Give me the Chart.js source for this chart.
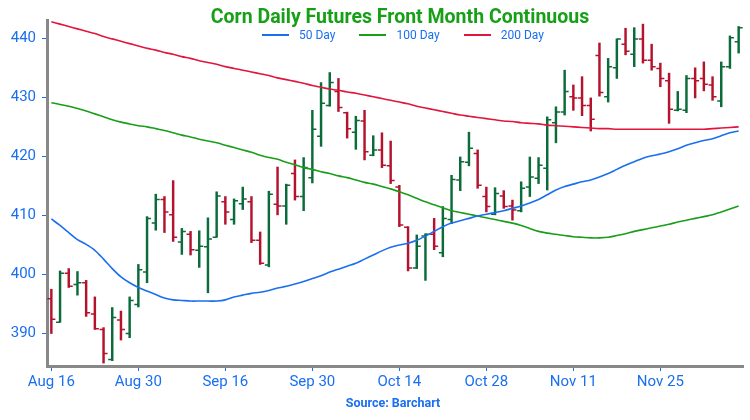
<!DOCTYPE html>
<html><head><meta charset="utf-8">
<script src="https://cdn.jsdelivr.net/npm/chart.js@4.4.1/dist/chart.umd.min.js"></script>
<style>
html,body{margin:0;padding:0;background:#fff;}
#wrap{position:relative;width:750px;height:420px;overflow:hidden;}
#c{position:absolute;left:0;top:0;}
#title{position:absolute;left:0;width:800px;top:5px;text-align:center;font-family:Roboto;font-weight:bold;font-size:19.5px;color:#17a017;white-space:nowrap;}
#legend{position:absolute;left:262px;top:28px;height:14px;display:flex;align-items:center;font-family:Roboto;font-size:12px;color:#1a6ff0;white-space:nowrap;}
#legend .it{display:flex;align-items:center;margin-right:24px;}
#legend .sw{display:inline-block;width:27px;height:2.5px;margin-right:10px;}
#source{position:absolute;left:0;width:786px;top:395px;text-align:center;font-family:Roboto;font-weight:bold;font-size:12.5px;color:#1a6ff0;}
</style></head>
<body>
<div id="wrap">
<canvas id="c" width="750" height="420"></canvas>
<div id="title">Corn Daily Futures Front Month Continuous</div>
<div id="legend"></div>
<div id="source">Source: Barchart</div>
</div>
<script>
const dates = ['Aug 16','Aug 19','Aug 20','Aug 21','Aug 22','Aug 23','Aug 26','Aug 27','Aug 28','Aug 29','Aug 30',
'Sep 3','Sep 4','Sep 5','Sep 6','Sep 9','Sep 10','Sep 11','Sep 12','Sep 13','Sep 16','Sep 17','Sep 18','Sep 19','Sep 20',
'Sep 23','Sep 24','Sep 25','Sep 26','Sep 27','Sep 30','Oct 1','Oct 2','Oct 3','Oct 4','Oct 7','Oct 8','Oct 9','Oct 10','Oct 11',
'Oct 14','Oct 15','Oct 16','Oct 17','Oct 18','Oct 21','Oct 22','Oct 23','Oct 24','Oct 25','Oct 28','Oct 29','Oct 30','Oct 31','Nov 1',
'Nov 4','Nov 5','Nov 6','Nov 7','Nov 8','Nov 11','Nov 12','Nov 13','Nov 14','Nov 15','Nov 18','Nov 19','Nov 20','Nov 21','Nov 22',
'Nov 25','Nov 26','Nov 27','Nov 29','Dec 2','Dec 3','Dec 4','Dec 5','Dec 6','Dec 9'];
const xTickLabels = ['Aug 16','Aug 30','Sep 16','Sep 30','Oct 14','Oct 28','Nov 11','Nov 25'];
const yTicks = [390,400,410,420,430,440];

const openP = [395.9,391.9,400.2,398.3,398.6,393.3,390.7,385.6,392.3,390.0,
394.9,400.4,408.7,412.7,410.1,405.5,406.8,404.1,404.7,406.3,
412.3,409.3,412.0,412.3,405.8,401.6,411.9,411.6,417.1,413.2,
416.4,423.4,428.6,431.0,427.4,424.1,426.0,420.2,421.1,418.4,
414.8,408.0,401.1,406.5,406.8,403.7,409.3,416.0,419.0,420.5,
413.2,410.2,413.3,411.6,410.8,414.8,416.3,418.0,425.7,427.5,
430.1,429.9,428.6,437.1,430.1,435.0,439.0,437.3,439.9,436.3,
434.9,432.8,427.8,427.8,433.2,433.2,432.1,429.4,435.2,439.4];
const highP = [397.5,400.6,401.0,400.5,399.0,396.2,391.0,394.4,393.8,396.2,
401.7,409.8,413.6,413.2,415.9,407.8,407.3,407.4,409.6,414.0,
413.2,412.8,414.8,413.2,407.2,414.1,418.2,415.3,419.4,419.8,
427.8,432.5,434.2,433.2,427.5,426.8,427.8,423.5,424.0,422.6,
415.1,408.1,406.7,406.9,409.5,411.5,416.8,419.9,424.1,421.1,
414.8,414.7,414.2,412.6,415.7,419.9,419.8,426.7,428.4,434.6,
432.1,433.5,429.9,439.2,436.6,439.9,441.7,441.8,442.4,439.0,
435.8,434.1,431.0,433.7,435.0,436.0,433.5,436.0,440.4,442.0];
const lowP = [390.0,391.9,397.8,396.5,392.9,390.7,385.0,385.4,388.9,389.3,
394.5,398.6,407.5,407.1,405.6,403.4,403.3,401.2,396.9,406.3,
408.5,408.5,411.0,405.4,401.7,401.3,410.1,408.5,412.6,410.8,
415.5,421.7,428.5,427.6,423.1,421.2,419.4,420.1,418.1,415.4,
408.1,400.6,401.0,399.0,404.2,403.0,408.6,414.2,418.4,414.6,
410.6,410.1,411.2,409.2,410.6,413.2,415.4,414.3,422.3,427.0,
427.8,426.9,424.3,430.2,429.2,433.2,437.2,435.2,435.8,434.6,
431.8,425.6,427.7,427.4,429.9,431.1,429.5,428.4,434.9,437.5];
const closeP = [392.4,400.2,398.0,398.6,393.5,390.8,386.6,392.7,390.7,395.6,
400.8,409.5,412.7,410.6,406.3,407.3,404.2,404.8,406.0,413.3,
410.6,412.5,412.8,405.8,401.9,413.6,411.6,415.1,413.2,418.1,
424.6,429.0,432.5,428.3,424.7,426.1,420.8,421.1,418.5,415.9,
408.4,401.1,404.8,406.8,404.8,409.5,416.1,419.1,421.4,415.1,
411.5,413.7,411.5,410.9,414.6,416.5,418.5,426.2,427.5,431.0,
429.9,428.6,426.3,430.8,435.2,439.9,437.8,439.9,436.3,435.2,
433.2,428.0,428.0,433.2,432.8,432.2,430.1,435.2,440.1,441.8];

const ma50 = [409.4,408.3,407.1,405.9,405.1,404.1,402.6,401.0,399.6,398.6,
397.8,397.2,396.6,396.0,395.7,395.6,395.5,395.5,395.5,395.5,
395.7,396.2,396.5,396.8,397.0,397.3,397.7,398.0,398.4,398.8,
399.3,399.8,400.4,400.9,401.4,401.9,402.6,403.3,404.0,404.6,
405.0,405.3,405.8,406.5,407.3,408.1,408.7,409.1,409.5,409.9,
410.2,410.5,410.8,411.2,411.6,412.1,412.7,413.5,414.3,414.9,
415.3,415.7,416.0,416.5,417.1,417.8,418.5,419.1,419.7,420.1,
420.4,420.8,421.3,421.9,422.3,422.7,423.0,423.5,424.0,424.3];
const ma100 = [429.1,428.8,428.5,428.1,427.7,427.2,426.7,426.2,425.8,425.5,
425.2,425.0,424.7,424.4,424.0,423.6,423.3,422.9,422.6,422.3,
421.9,421.5,421.1,420.7,420.2,419.8,419.5,419.0,418.6,418.1,
417.8,417.4,417.1,416.7,416.4,416.0,415.6,415.3,414.9,414.5,
414.0,413.5,412.9,412.3,411.8,411.3,410.8,410.5,410.2,409.9,
409.6,409.3,409.0,408.7,408.3,407.8,407.3,407.0,406.8,406.6,
406.4,406.3,406.2,406.2,406.3,406.6,406.9,407.3,407.6,407.9,
408.2,408.5,408.9,409.2,409.5,409.8,410.1,410.6,411.1,411.6];
const ma200 = [442.8,442.4,442.0,441.6,441.2,440.8,440.3,439.9,439.5,439.1,
438.7,438.3,438.0,437.6,437.3,436.9,436.6,436.2,435.9,435.6,
435.2,434.9,434.6,434.3,434.0,433.7,433.3,433.0,432.7,432.4,
432.0,431.7,431.4,431.2,430.9,430.7,430.4,430.1,429.8,429.5,
429.2,428.9,428.5,428.2,427.9,427.6,427.3,427.0,426.8,426.6,
426.4,426.2,426.0,425.9,425.7,425.6,425.5,425.3,425.2,425.1,
425.0,424.9,424.8,424.7,424.7,424.6,424.6,424.6,424.6,424.6,
424.6,424.6,424.6,424.6,424.6,424.6,424.7,424.8,424.9,425.0];

const upColor = '#0b6b3a';
const downColor = '#b5132d';
const textBlue = '#1a6ff0';
const barColors = closeP.map((c,i)=> c >= openP[i] ? upColor : downColor);

const ohlcTicks = {
  id: 'ohlcTicks',
  beforeDatasetsDraw(chart){
    const {ctx, scales:{x, y}} = chart;
    ctx.save();
    ctx.lineWidth = 1.5;
    for (let i = 0; i < dates.length; i++){
      const px = x.getPixelForValue(i);
      const yo = y.getPixelForValue(openP[i]);
      const yc = y.getPixelForValue(closeP[i]);
      ctx.strokeStyle = barColors[i];
      ctx.beginPath();
      ctx.moveTo(px - 4, yo); ctx.lineTo(px, yo);
      ctx.moveTo(px, yc); ctx.lineTo(px + 4, yc);
      ctx.stroke();
    }
    ctx.restore();
  }
};

const chart = new Chart(document.getElementById('c'), {
  type: 'bar',
  data: {
    labels: dates,
    datasets: [
      {type:'line', label:'50 Day', data: ma50, borderColor:'#1a6ff0', backgroundColor:'#1a6ff0', borderWidth:1.6, pointRadius:0, tension:0.3, fill:false},
      {type:'line', label:'100 Day', data: ma100, borderColor:'#1a9e1a', backgroundColor:'#1a9e1a', borderWidth:1.6, pointRadius:0, tension:0.3, fill:false},
      {type:'line', label:'200 Day', data: ma200, borderColor:'#e0163c', backgroundColor:'#e0163c', borderWidth:1.6, pointRadius:0, tension:0.3, fill:false},
      {type:'bar', label:'OHLC', data: highP.map((h,i)=>[lowP[i], h]), backgroundColor: barColors, barThickness: 1.8, borderSkipped:false}
    ]
  },
  options: {
    responsive: false,
    animation: false,
    layout: {padding: {top: 20, right: 7, bottom: 20, left: 0}},
    plugins: {legend: {display: false}, title: {display: false}, tooltip: {enabled: false}},
    scales: {
      x: {
        offset: true,
        grid: {display: true, drawOnChartArea: false, drawTicks: true, tickLength: 5, color: textBlue, offset: false},
        border: {display: true, color: '#888', width: 3},
        ticks: {autoSkip: false, maxRotation: 0, color: textBlue, font: {family: 'Roboto', size: 15}, padding: 2},
        afterBuildTicks: s => { s.ticks = s.ticks.filter(t => xTickLabels.includes(dates[t.value])); },
        afterFit: s => { s.height = 34; }
      },
      y: {
        min: 384.5, max: 443.1,
        grid: {display: true, drawOnChartArea: false, drawTicks: true, tickLength: 5, color: textBlue},
        border: {display: true, color: '#888', width: 3},
        ticks: {color: textBlue, font: {family: 'Roboto', size: 15}, padding: 6},
        afterBuildTicks: s => { s.ticks = yTicks.map(v => ({value: v})); },
        afterFit: s => { s.width = 47; }
      }
    }
  },
  plugins: [ohlcTicks]
});

// legend built from the chart's line datasets
const lg = document.getElementById('legend');
chart.data.datasets.filter(d => d.type === 'line').forEach(d => {
  const it = document.createElement('span'); it.className = 'it';
  const sw = document.createElement('span'); sw.className = 'sw'; sw.style.background = d.borderColor;
  const tx = document.createElement('span'); tx.textContent = d.label;
  it.appendChild(sw); it.appendChild(tx); lg.appendChild(it);
});
</script>
</body></html>
